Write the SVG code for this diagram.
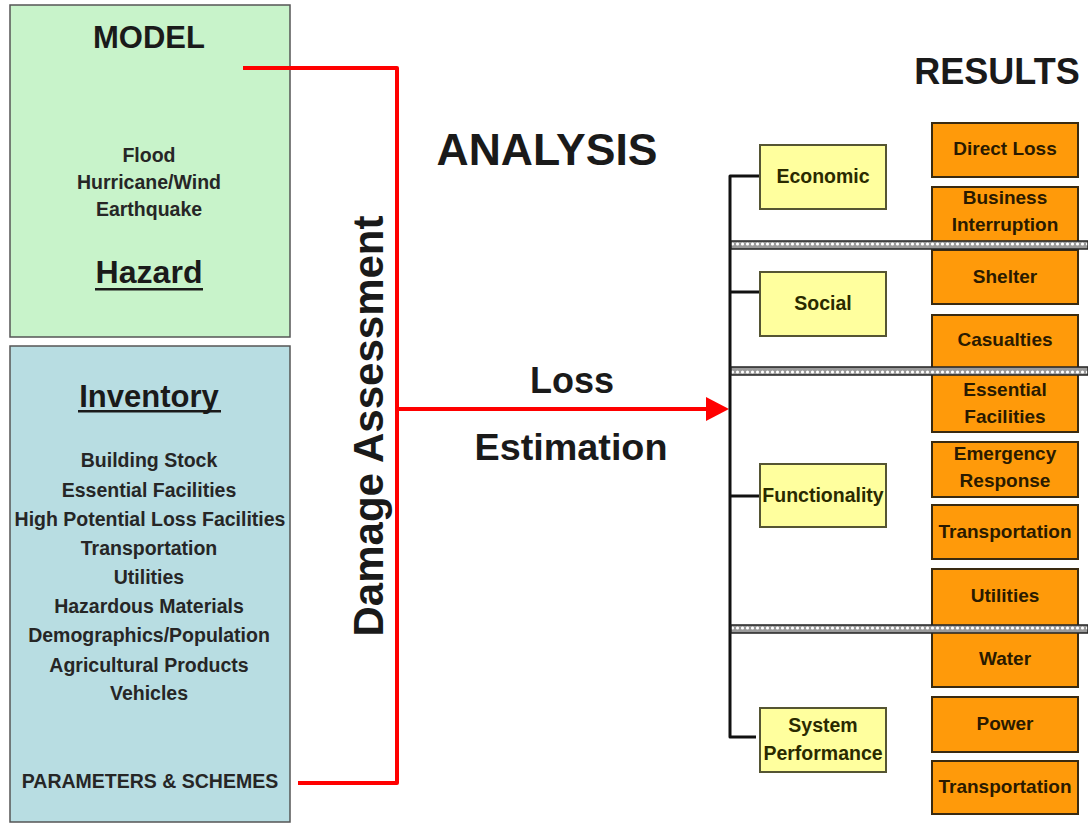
<svg xmlns="http://www.w3.org/2000/svg" width="1088" height="825" viewBox="0 0 1088 825">
<defs>
<style>
text{font-family:"Liberation Sans",Arial,sans-serif;fill:#1a1a1a;text-anchor:middle}
.b{font-weight:bold}
.list{font-weight:bold;font-size:19.5px;fill:#262626}
.res{font-weight:bold;font-size:19px;fill:#2a1a00}
.dim{font-weight:bold;font-size:19.5px;fill:#2a2a00}
.orange{fill:#FF9A0A;stroke:#3a2a10;stroke-width:2}
.yellow{fill:#FFFF9E;stroke:#555533;stroke-width:2}
.red{fill:none;stroke:#FF0000;stroke-width:4;stroke-linejoin:round}
.tree{fill:none;stroke:#111;stroke-width:3;stroke-linejoin:round}
.sep{fill:url(#dots);stroke:#222;stroke-width:1.5}
</style>
<pattern id="dots" x="0" y="0" width="5" height="8" patternUnits="userSpaceOnUse">
<rect width="5" height="8" fill="#9a9a9a"/>
<circle cx="2.5" cy="4" r="1.6" fill="#ffffff"/>
</pattern>
<marker id="arr" markerWidth="6" markerHeight="6" refX="5" refY="3" orient="auto" markerUnits="strokeWidth">
<path d="M0,0 L5,3 L0,6 Z" fill="#FF0000"/>
</marker>
</defs>
<rect width="1088" height="825" fill="#ffffff"/>

<g id="model">
<rect x="10" y="5" width="280" height="332" fill="#C8F3CA" stroke="#555" stroke-width="1.5"/>
<text x="149" y="48" class="b" font-size="31">MODEL</text>
<text x="149" y="162" class="list">Flood</text>
<text x="149" y="189" class="list">Hurricane/Wind</text>
<text x="149" y="216" class="list">Earthquake</text>
<text x="149" y="283" class="b" font-size="31" textLength="107" lengthAdjust="spacingAndGlyphs">Hazard</text>
<rect x="95" y="288" width="108" height="2.5" fill="#1a1a1a"/>
</g>

<g id="inventory">
<rect x="10" y="346" width="280" height="476" fill="#B8DDE2" stroke="#555" stroke-width="1.5"/>
<text x="149" y="407" class="b" font-size="31">Inventory</text>
<rect x="78" y="410" width="143" height="2.5" fill="#1a1a1a"/>
<text x="149" y="467" class="list">Building Stock</text>
<text x="149" y="497" class="list">Essential Facilities</text>
<text x="150" y="526" class="list">High Potential Loss Facilities</text>
<text x="149" y="555" class="list">Transportation</text>
<text x="149" y="584" class="list">Utilities</text>
<text x="149" y="613" class="list">Hazardous Materials</text>
<text x="149" y="642" class="list">Demographics/Population</text>
<text x="149" y="672" class="list">Agricultural Products</text>
<text x="149" y="700" class="list">Vehicles</text>
<text x="150" y="788" class="list">PARAMETERS &amp; SCHEMES</text>
</g>

<g id="labels">
<text x="997" y="84" class="b" font-size="36">RESULTS</text>
<text x="547" y="165" class="b" font-size="44" textLength="221" lengthAdjust="spacingAndGlyphs">ANALYSIS</text>
<text x="572" y="393" class="b" font-size="36">Loss</text>
<text x="571" y="460" class="b" font-size="37" textLength="193" lengthAdjust="spacingAndGlyphs">Estimation</text>
<text transform="translate(383,426) rotate(-90)" x="0" y="0" class="b" font-size="42">Damage Assessment</text>
</g>

<g id="connectors">
<path class="red" d="M243,68 H397 V783 H298"/>
<line x1="397" y1="409" x2="710" y2="409" stroke="#FF0000" stroke-width="4"/>
<path d="M706,397 L729,409 L706,421 Z" fill="#FF0000"/>
<path class="tree" d="M760,176 H730 V737 H756"/>
<line class="tree" x1="730" y1="292" x2="760" y2="292"/>
<line class="tree" x1="730" y1="496" x2="760" y2="496"/>
</g>

<g id="dim-economic">
<rect class="yellow" x="760" y="145" width="126" height="64"/>
<text x="823" y="183" class="dim">Economic</text>
</g>
<g id="dim-social">
<rect class="yellow" x="760" y="272" width="126" height="64"/>
<text x="823" y="310" class="dim">Social</text>
</g>
<g id="dim-functionality">
<rect class="yellow" x="760" y="464" width="126" height="63"/>
<text x="823" y="502" class="dim">Functionality</text>
</g>
<g id="dim-system">
<rect class="yellow" x="760" y="708" width="126" height="64"/>
<text x="823" y="732" class="dim">System</text>
<text x="823" y="760" class="dim">Performance</text>
</g>

<g id="r-direct-loss">
<rect class="orange" x="932" y="123" width="146" height="54"/>
<text x="1005" y="155" class="res">Direct Loss</text>
</g>
<g id="r-business">
<rect class="orange" x="932" y="187" width="146" height="58"/>
<text x="1005" y="204" class="res">Business</text>
<text x="1005" y="231" class="res">Interruption</text>
</g>
<g id="r-shelter">
<rect class="orange" x="932" y="250" width="146" height="54"/>
<text x="1005" y="283" class="res">Shelter</text>
</g>
<g id="r-casualties">
<rect class="orange" x="932" y="315" width="146" height="56"/>
<text x="1005" y="346" class="res">Casualties</text>
</g>
<g id="r-essential">
<rect class="orange" x="932" y="373" width="146" height="59"/>
<text x="1005" y="396" class="res">Essential</text>
<text x="1005" y="423" class="res">Facilities</text>
</g>
<g id="r-emergency">
<rect class="orange" x="932" y="442" width="146" height="55"/>
<text x="1005" y="460" class="res">Emergency</text>
<text x="1005" y="487" class="res">Response</text>
</g>
<g id="r-transportation">
<rect class="orange" x="932" y="505" width="146" height="54"/>
<text x="1005" y="538" class="res">Transportation</text>
</g>
<g id="r-utilities">
<rect class="orange" x="932" y="569" width="146" height="58"/>
<text x="1005" y="602" class="res">Utilities</text>
</g>
<g id="r-water">
<rect class="orange" x="932" y="632" width="146" height="55"/>
<text x="1005" y="665" class="res">Water</text>
</g>
<g id="r-power">
<rect class="orange" x="932" y="697" width="146" height="55"/>
<text x="1005" y="730" class="res">Power</text>
</g>
<g id="r-transportation2">
<rect class="orange" x="932" y="761" width="146" height="53"/>
<text x="1005" y="793" class="res">Transportation</text>
</g>

<g id="separators">
<rect class="sep" x="731" y="241" width="357" height="8"/>
<rect class="sep" x="731" y="367" width="357" height="8"/>
<rect class="sep" x="731" y="625" width="357" height="8"/>
</g>
</svg>
